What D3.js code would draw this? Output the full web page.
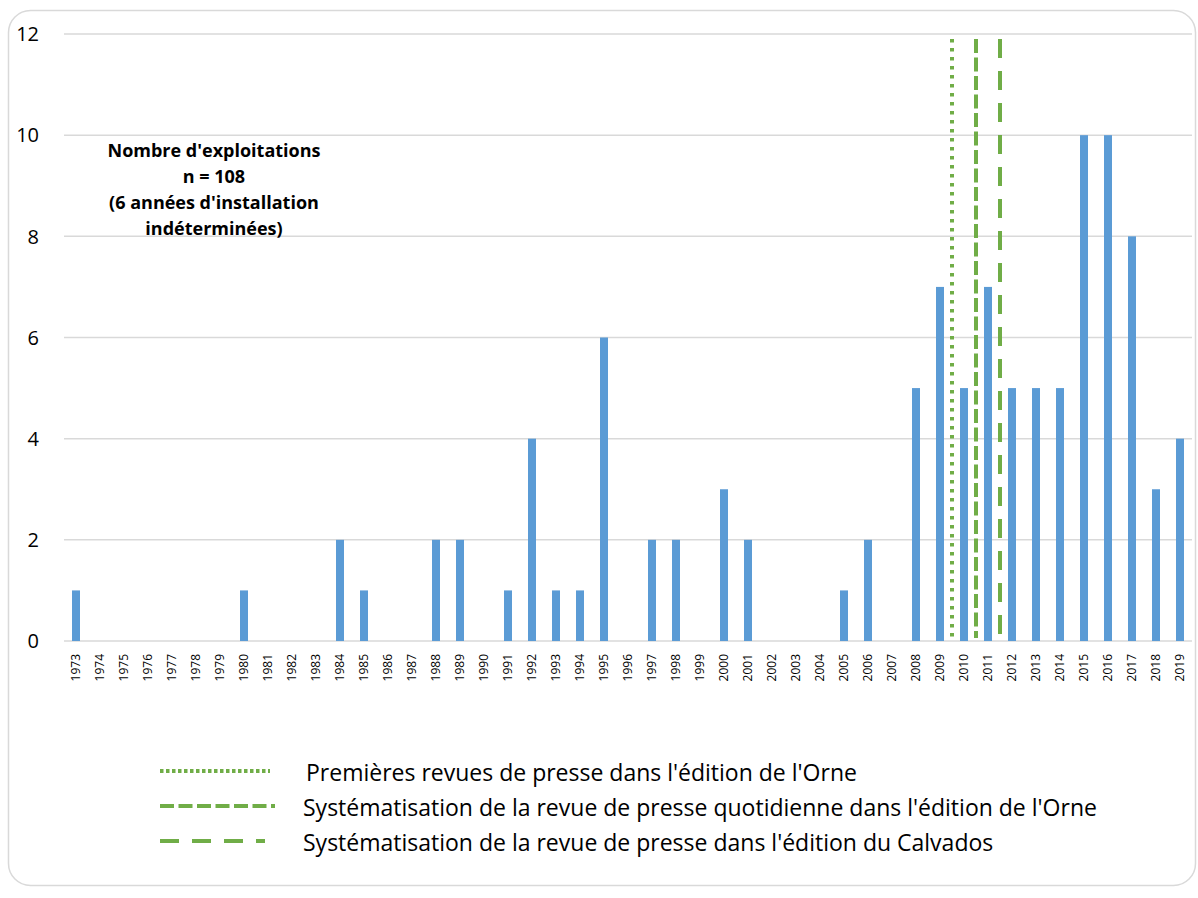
<!DOCTYPE html>
<html>
<head>
<meta charset="utf-8">
<script src="https://cdn.jsdelivr.net/npm/d3@7"></script>
<style>
  body { margin: 0; background: #fff; }
  svg { font-family: "Open Sans", "Noto Sans", sans-serif; }
</style>
</head>
<body>
<svg width="1198" height="898"></svg>
<script>
const YEARS = ['1973', '1974', '1975', '1976', '1977', '1978', '1979', '1980', '1981', '1982',
  '1983', '1984', '1985', '1986', '1987', '1988', '1989', '1990', '1991', '1992', '1993', '1994',
  '1995', '1996', '1997', '1998', '1999', '2000', '2001', '2002', '2003', '2004', '2005', '2006',
  '2007', '2008', '2009', '2010', '2011', '2012', '2013', '2014', '2015', '2016', '2017', '2018', '2019']
const COUNTS = [1, 0, 0, 0, 0, 0, 0, 1, 0, 0,
  0, 2, 1, 0, 0, 2, 2, 0, 1, 4, 1, 1,
  6, 0, 2, 2, 0, 3, 2, 0, 0, 0, 1, 2,
  0, 5, 7, 5, 7, 5, 5, 5, 10, 10, 8, 3, 4]
const Y_TICKS = [0, 2, 4, 6, 8, 10, 12]
// vertical markers sit between a year and the next one
const MARKER_AFTER = ['2009', '2010', '2011']
const MARKER_LABELS = [
  "Premières revues de presse dans l'édition de l'Orne",
  "Systématisation de la revue de presse quotidienne dans l'édition de l'Orne",
  "Systématisation de la revue de presse dans l'édition du Calvados"
]
const NOTE_LINES = ["Nombre d'exploitations", 'n = 108', "(6 années d'installation", 'indéterminées)']

const BLUE = '#5b9bd5'
const GREEN = '#70ad47'
const GRID = '#d9d9d9'
const DASHES = ['3.5 5.5', '14 4.5', '19 13']

const svg = d3.select('svg')

svg.append('rect')
  .attr('x', 8.5).attr('y', 10.5)
  .attr('width', 1187).attr('height', 875)
  .attr('rx', 22)
  .attr('fill', '#fff')
  .attr('stroke', GRID)
  .attr('stroke-width', 1.5)

const x = d3.scaleBand()
  .domain(YEARS)
  .range([64, 1192])
  .paddingInner(2 / 3)
  .paddingOuter(1 / 3)
const y = d3.scaleLinear().domain([0, 12]).range([641, 34])

// grid + y labels
svg.append('g')
  .selectAll('line')
  .data(Y_TICKS)
  .enter().append('line')
  .attr('x1', 64).attr('x2', 1192)
  .attr('y1', d => y(d)).attr('y2', d => y(d))
  .attr('stroke', GRID)
  .attr('stroke-width', 1.5)

svg.append('g')
  .selectAll('text')
  .data(Y_TICKS)
  .enter().append('text')
  .attr('x', 39)
  .attr('y', d => y(d))
  .attr('dy', '0.36em')
  .attr('text-anchor', 'end')
  .attr('font-size', 20)
  .attr('fill', '#000')
  .text(d => d)

// bars
svg.append('g')
  .selectAll('rect')
  .data(YEARS.map((year, i) => ({ year, value: COUNTS[i] })))
  .enter().append('rect')
  .attr('x', d => x(d.year))
  .attr('y', d => y(d.value))
  .attr('width', x.bandwidth())
  .attr('height', d => y(0) - y(d.value))
  .attr('fill', BLUE)

// x labels
svg.append('g')
  .selectAll('text')
  .data(YEARS)
  .enter().append('text')
  .attr('transform', d => `translate(${x(d) + x.bandwidth() / 2},654) rotate(-90)`)
  .attr('dy', '0.36em')
  .attr('text-anchor', 'end')
  .attr('font-size', 12)
  .attr('fill', '#000')
  .text(d => d)

// vertical markers
const boundary = year => x(year) + x.bandwidth() / 2 + x.step() / 2
svg.append('g')
  .selectAll('line')
  .data(MARKER_AFTER)
  .enter().append('line')
  .attr('x1', d => boundary(d)).attr('x2', d => boundary(d))
  .attr('y1', y(12) + 5)
  .attr('y2', (d, i) => i === 2 ? y(0) + 5 : y(0) - 3)
  .attr('stroke', GREEN)
  .attr('stroke-width', 4)
  .attr('stroke-dasharray', (d, i) => DASHES[i])

// note
svg.append('text')
  .attr('x', 214)
  .attr('y', 157)
  .attr('text-anchor', 'middle')
  .attr('font-size', 18)
  .attr('font-weight', 'bold')
  .attr('fill', '#000')
  .selectAll('tspan')
  .data(NOTE_LINES)
  .enter().append('tspan')
  .attr('x', 214)
  .attr('dy', (d, i) => i === 0 ? 0 : 26)
  .text(d => d)

// legend
const legend = svg.append('g')
  .selectAll('g')
  .data(MARKER_LABELS)
  .enter().append('g')
  .attr('transform', (d, i) => `translate(0,${771 + i * 35})`)

legend.append('line')
  .attr('x1', 160).attr('x2', (d, i) => [270, 275, 265][i])
  .attr('stroke', GREEN)
  .attr('stroke-width', 4)
  .attr('stroke-dasharray', (d, i) => ['3.5 2.5', '14 4.5', '19 13'][i])

legend.append('text')
  .attr('x', (d, i) => i === 0 ? 306 : 303)
  .attr('y', 2)
  .attr('dy', '0.36em')
  .attr('font-size', 23)
  .attr('fill', '#000')
  .text(d => d)
</script>
</body>
</html>
